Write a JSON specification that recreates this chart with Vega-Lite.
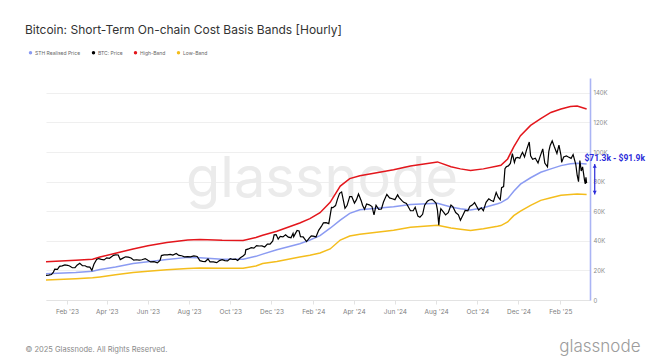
{
  "$schema": "https://vega.github.io/schema/vega-lite/v6.json",
  "width": 544,
  "height": 222,
  "autosize": {"type": "none"},
  "padding": {"left": 46, "top": 78, "right": 61, "bottom": 58},
  "background": "#ffffff",
  "config": {"view": {"stroke": null}, "font": "Inter"},
  "title": {"text": "Bitcoin: Short-Term On-chain Cost Basis Bands [Hourly]", "anchor": "start", "frame": "group", "dx": -21, "offset": 13, "fontSize": 12, "font": "Inter", "fontWeight": 400, "color": "#333333"},
  "datasets": {
    "bands": [
      {"date": "2023-01-01", "series": "High-Band", "value": 25800}, {"date": "2023-01-01", "series": "STH Realised Price", "value": 17800}, {"date": "2023-01-01", "series": "Low-Band", "value": 13500},
      {"date": "2023-02-14", "series": "High-Band", "value": 26900}, {"date": "2023-02-14", "series": "STH Realised Price", "value": 18600}, {"date": "2023-02-14", "series": "Low-Band", "value": 14300},
      {"date": "2023-03-11", "series": "High-Band", "value": 27600}, {"date": "2023-03-11", "series": "STH Realised Price", "value": 19400}, {"date": "2023-03-11", "series": "Low-Band", "value": 15000},
      {"date": "2023-03-22", "series": "High-Band", "value": 29000}, {"date": "2023-03-22", "series": "STH Realised Price", "value": 20600}, {"date": "2023-03-22", "series": "Low-Band", "value": 15600},
      {"date": "2023-04-14", "series": "High-Band", "value": 31600}, {"date": "2023-04-14", "series": "STH Realised Price", "value": 22300}, {"date": "2023-04-14", "series": "Low-Band", "value": 17000},
      {"date": "2023-05-10", "series": "High-Band", "value": 34500}, {"date": "2023-05-10", "series": "STH Realised Price", "value": 24600}, {"date": "2023-05-10", "series": "Low-Band", "value": 18600},
      {"date": "2023-06-01", "series": "High-Band", "value": 36600}, {"date": "2023-06-01", "series": "STH Realised Price", "value": 25800}, {"date": "2023-06-01", "series": "Low-Band", "value": 19400},
      {"date": "2023-06-29", "series": "High-Band", "value": 38800}, {"date": "2023-06-29", "series": "STH Realised Price", "value": 27300}, {"date": "2023-06-29", "series": "Low-Band", "value": 20400},
      {"date": "2023-07-30", "series": "High-Band", "value": 40600}, {"date": "2023-07-30", "series": "STH Realised Price", "value": 28800}, {"date": "2023-07-30", "series": "Low-Band", "value": 21300},
      {"date": "2023-08-17", "series": "High-Band", "value": 40800}, {"date": "2023-08-17", "series": "STH Realised Price", "value": 28600}, {"date": "2023-08-17", "series": "Low-Band", "value": 21700},
      {"date": "2023-09-19", "series": "High-Band", "value": 40300}, {"date": "2023-09-19", "series": "STH Realised Price", "value": 27600}, {"date": "2023-09-19", "series": "Low-Band", "value": 21400},
      {"date": "2023-10-20", "series": "High-Band", "value": 40200}, {"date": "2023-10-20", "series": "STH Realised Price", "value": 27600}, {"date": "2023-10-20", "series": "Low-Band", "value": 21500},
      {"date": "2023-11-08", "series": "High-Band", "value": 42200}, {"date": "2023-11-08", "series": "STH Realised Price", "value": 29500}, {"date": "2023-11-08", "series": "Low-Band", "value": 23000},
      {"date": "2023-11-18", "series": "High-Band", "value": 43700}, {"date": "2023-11-18", "series": "STH Realised Price", "value": 31000}, {"date": "2023-11-18", "series": "Low-Band", "value": 24700},
      {"date": "2023-12-09", "series": "High-Band", "value": 46500}, {"date": "2023-12-09", "series": "STH Realised Price", "value": 34000}, {"date": "2023-12-09", "series": "Low-Band", "value": 26000},
      {"date": "2024-01-12", "series": "High-Band", "value": 52000}, {"date": "2024-01-12", "series": "STH Realised Price", "value": 38000}, {"date": "2024-01-12", "series": "Low-Band", "value": 29000},
      {"date": "2024-01-27", "series": "High-Band", "value": 55000}, {"date": "2024-01-27", "series": "STH Realised Price", "value": 40500}, {"date": "2024-01-27", "series": "Low-Band", "value": 30300},
      {"date": "2024-02-11", "series": "High-Band", "value": 59000}, {"date": "2024-02-11", "series": "STH Realised Price", "value": 43500}, {"date": "2024-02-11", "series": "Low-Band", "value": 31800},
      {"date": "2024-02-26", "series": "High-Band", "value": 66000}, {"date": "2024-02-26", "series": "STH Realised Price", "value": 48500}, {"date": "2024-02-26", "series": "Low-Band", "value": 34500},
      {"date": "2024-03-12", "series": "High-Band", "value": 77000}, {"date": "2024-03-12", "series": "STH Realised Price", "value": 54000}, {"date": "2024-03-12", "series": "Low-Band", "value": 40500},
      {"date": "2024-03-26", "series": "High-Band", "value": 82000}, {"date": "2024-03-26", "series": "STH Realised Price", "value": 58500}, {"date": "2024-03-26", "series": "Low-Band", "value": 43200},
      {"date": "2024-04-10", "series": "High-Band", "value": 84000}, {"date": "2024-04-10", "series": "STH Realised Price", "value": 61000}, {"date": "2024-04-10", "series": "Low-Band", "value": 44500},
      {"date": "2024-05-30", "series": "High-Band", "value": 88000}, {"date": "2024-05-30", "series": "STH Realised Price", "value": 63000}, {"date": "2024-05-30", "series": "Low-Band", "value": 47200},
      {"date": "2024-06-24", "series": "High-Band", "value": 90500}, {"date": "2024-06-24", "series": "STH Realised Price", "value": 64600}, {"date": "2024-06-24", "series": "Low-Band", "value": 49200},
      {"date": "2024-08-03", "series": "High-Band", "value": 93300}, {"date": "2024-08-03", "series": "STH Realised Price", "value": 65300}, {"date": "2024-08-03", "series": "Low-Band", "value": 50500},
      {"date": "2024-08-23", "series": "High-Band", "value": 90000}, {"date": "2024-08-23", "series": "STH Realised Price", "value": 62800}, {"date": "2024-08-23", "series": "Low-Band", "value": 48600},
      {"date": "2024-09-06", "series": "High-Band", "value": 88600}, {"date": "2024-09-06", "series": "STH Realised Price", "value": 61700}, {"date": "2024-09-06", "series": "Low-Band", "value": 47800},
      {"date": "2024-09-21", "series": "High-Band", "value": 87500}, {"date": "2024-09-21", "series": "STH Realised Price", "value": 60800}, {"date": "2024-09-21", "series": "Low-Band", "value": 47000},
      {"date": "2024-10-10", "series": "High-Band", "value": 88600}, {"date": "2024-10-10", "series": "STH Realised Price", "value": 62400}, {"date": "2024-10-10", "series": "Low-Band", "value": 48200},
      {"date": "2024-10-31", "series": "High-Band", "value": 90500}, {"date": "2024-10-31", "series": "STH Realised Price", "value": 65000}, {"date": "2024-10-31", "series": "Low-Band", "value": 49800},
      {"date": "2024-11-05", "series": "High-Band", "value": 91000}, {"date": "2024-11-05", "series": "STH Realised Price", "value": 65800}, {"date": "2024-11-05", "series": "Low-Band", "value": 50300},
      {"date": "2024-11-15", "series": "High-Band", "value": 95300}, {"date": "2024-11-15", "series": "STH Realised Price", "value": 68400}, {"date": "2024-11-15", "series": "Low-Band", "value": 52700},
      {"date": "2024-11-24", "series": "High-Band", "value": 103500}, {"date": "2024-11-24", "series": "STH Realised Price", "value": 73500}, {"date": "2024-11-24", "series": "Low-Band", "value": 57000},
      {"date": "2024-12-04", "series": "High-Band", "value": 111000}, {"date": "2024-12-04", "series": "STH Realised Price", "value": 78300}, {"date": "2024-12-04", "series": "Low-Band", "value": 60000},
      {"date": "2024-12-19", "series": "High-Band", "value": 118000}, {"date": "2024-12-19", "series": "STH Realised Price", "value": 82600}, {"date": "2024-12-19", "series": "Low-Band", "value": 63900},
      {"date": "2025-01-03", "series": "High-Band", "value": 122500}, {"date": "2025-01-03", "series": "STH Realised Price", "value": 86300}, {"date": "2025-01-03", "series": "Low-Band", "value": 67300},
      {"date": "2025-01-18", "series": "High-Band", "value": 126700}, {"date": "2025-01-18", "series": "STH Realised Price", "value": 88600}, {"date": "2025-01-18", "series": "Low-Band", "value": 69100},
      {"date": "2025-02-02", "series": "High-Band", "value": 129000}, {"date": "2025-02-02", "series": "STH Realised Price", "value": 90800}, {"date": "2025-02-02", "series": "Low-Band", "value": 70700},
      {"date": "2025-02-16", "series": "High-Band", "value": 130800}, {"date": "2025-02-16", "series": "STH Realised Price", "value": 92100}, {"date": "2025-02-16", "series": "Low-Band", "value": 71300},
      {"date": "2025-02-26", "series": "High-Band", "value": 131000}, {"date": "2025-02-26", "series": "STH Realised Price", "value": 92400}, {"date": "2025-02-26", "series": "Low-Band", "value": 71600},
      {"date": "2025-03-12", "series": "High-Band", "value": 129000}, {"date": "2025-03-12", "series": "STH Realised Price", "value": 91900}, {"date": "2025-03-12", "series": "Low-Band", "value": 71300}
    ],
    "price": [
      {"date": "2023-01-01", "series": "BTC: Price", "value": 16600}, {"date": "2023-01-05", "series": "BTC: Price", "value": 16850}, {"date": "2023-01-09", "series": "BTC: Price", "value": 17200}, {"date": "2023-01-12", "series": "BTC: Price", "value": 18850}, {"date": "2023-01-14", "series": "BTC: Price", "value": 20900}, {"date": "2023-01-18", "series": "BTC: Price", "value": 20700}, {"date": "2023-01-21", "series": "BTC: Price", "value": 22700}, {"date": "2023-01-25", "series": "BTC: Price", "value": 23050}, {"date": "2023-01-29", "series": "BTC: Price", "value": 23750},
      {"date": "2023-02-02", "series": "BTC: Price", "value": 23450}, {"date": "2023-02-05", "series": "BTC: Price", "value": 22950}, {"date": "2023-02-09", "series": "BTC: Price", "value": 21800}, {"date": "2023-02-13", "series": "BTC: Price", "value": 21800}, {"date": "2023-02-16", "series": "BTC: Price", "value": 23550}, {"date": "2023-02-20", "series": "BTC: Price", "value": 24850}, {"date": "2023-02-24", "series": "BTC: Price", "value": 23150}, {"date": "2023-02-28", "series": "BTC: Price", "value": 23150},
      {"date": "2023-03-03", "series": "BTC: Price", "value": 22350}, {"date": "2023-03-07", "series": "BTC: Price", "value": 22200}, {"date": "2023-03-10", "series": "BTC: Price", "value": 20000}, {"date": "2023-03-13", "series": "BTC: Price", "value": 24150}, {"date": "2023-03-17", "series": "BTC: Price", "value": 27400}, {"date": "2023-03-20", "series": "BTC: Price", "value": 28000}, {"date": "2023-03-24", "series": "BTC: Price", "value": 27500}, {"date": "2023-03-28", "series": "BTC: Price", "value": 27100},
      {"date": "2023-04-01", "series": "BTC: Price", "value": 28500}, {"date": "2023-04-05", "series": "BTC: Price", "value": 28200}, {"date": "2023-04-11", "series": "BTC: Price", "value": 30200}, {"date": "2023-04-14", "series": "BTC: Price", "value": 30500}, {"date": "2023-04-18", "series": "BTC: Price", "value": 30400}, {"date": "2023-04-21", "series": "BTC: Price", "value": 27300}, {"date": "2023-04-25", "series": "BTC: Price", "value": 28300}, {"date": "2023-04-29", "series": "BTC: Price", "value": 29200},
      {"date": "2023-05-03", "series": "BTC: Price", "value": 29000}, {"date": "2023-05-07", "series": "BTC: Price", "value": 28400}, {"date": "2023-05-11", "series": "BTC: Price", "value": 26900}, {"date": "2023-05-15", "series": "BTC: Price", "value": 27200}, {"date": "2023-05-19", "series": "BTC: Price", "value": 26900}, {"date": "2023-05-23", "series": "BTC: Price", "value": 27200}, {"date": "2023-05-28", "series": "BTC: Price", "value": 28000},
      {"date": "2023-06-01", "series": "BTC: Price", "value": 26800}, {"date": "2023-06-05", "series": "BTC: Price", "value": 25700}, {"date": "2023-06-10", "series": "BTC: Price", "value": 25900}, {"date": "2023-06-15", "series": "BTC: Price", "value": 25100}, {"date": "2023-06-19", "series": "BTC: Price", "value": 26800}, {"date": "2023-06-21", "series": "BTC: Price", "value": 30000}, {"date": "2023-06-25", "series": "BTC: Price", "value": 30500}, {"date": "2023-06-30", "series": "BTC: Price", "value": 30500},
      {"date": "2023-07-04", "series": "BTC: Price", "value": 30800}, {"date": "2023-07-08", "series": "BTC: Price", "value": 30300}, {"date": "2023-07-13", "series": "BTC: Price", "value": 31400}, {"date": "2023-07-17", "series": "BTC: Price", "value": 30100}, {"date": "2023-07-21", "series": "BTC: Price", "value": 29900}, {"date": "2023-07-25", "series": "BTC: Price", "value": 29200}, {"date": "2023-07-30", "series": "BTC: Price", "value": 29300},
      {"date": "2023-08-03", "series": "BTC: Price", "value": 29200}, {"date": "2023-08-08", "series": "BTC: Price", "value": 29800}, {"date": "2023-08-13", "series": "BTC: Price", "value": 29400}, {"date": "2023-08-17", "series": "BTC: Price", "value": 26600}, {"date": "2023-08-21", "series": "BTC: Price", "value": 26100}, {"date": "2023-08-25", "series": "BTC: Price", "value": 26000}, {"date": "2023-08-29", "series": "BTC: Price", "value": 27700},
      {"date": "2023-09-01", "series": "BTC: Price", "value": 25800}, {"date": "2023-09-06", "series": "BTC: Price", "value": 25800}, {"date": "2023-09-11", "series": "BTC: Price", "value": 25200}, {"date": "2023-09-15", "series": "BTC: Price", "value": 26600}, {"date": "2023-09-19", "series": "BTC: Price", "value": 27200}, {"date": "2023-09-23", "series": "BTC: Price", "value": 26600}, {"date": "2023-09-27", "series": "BTC: Price", "value": 26400},
      {"date": "2023-10-01", "series": "BTC: Price", "value": 28000}, {"date": "2023-10-05", "series": "BTC: Price", "value": 27400}, {"date": "2023-10-09", "series": "BTC: Price", "value": 27600}, {"date": "2023-10-12", "series": "BTC: Price", "value": 26700}, {"date": "2023-10-16", "series": "BTC: Price", "value": 28500}, {"date": "2023-10-20", "series": "BTC: Price", "value": 29700}, {"date": "2023-10-23", "series": "BTC: Price", "value": 31000}, {"date": "2023-10-24", "series": "BTC: Price", "value": 33900}, {"date": "2023-10-28", "series": "BTC: Price", "value": 34500},
      {"date": "2023-11-01", "series": "BTC: Price", "value": 35400}, {"date": "2023-11-05", "series": "BTC: Price", "value": 35000}, {"date": "2023-11-09", "series": "BTC: Price", "value": 36700}, {"date": "2023-11-13", "series": "BTC: Price", "value": 36500}, {"date": "2023-11-17", "series": "BTC: Price", "value": 36600}, {"date": "2023-11-21", "series": "BTC: Price", "value": 35800}, {"date": "2023-11-25", "series": "BTC: Price", "value": 37700}, {"date": "2023-11-29", "series": "BTC: Price", "value": 37800},
      {"date": "2023-12-03", "series": "BTC: Price", "value": 39900}, {"date": "2023-12-05", "series": "BTC: Price", "value": 44000}, {"date": "2023-12-08", "series": "BTC: Price", "value": 44200}, {"date": "2023-12-11", "series": "BTC: Price", "value": 41200}, {"date": "2023-12-14", "series": "BTC: Price", "value": 43000}, {"date": "2023-12-18", "series": "BTC: Price", "value": 42600}, {"date": "2023-12-22", "series": "BTC: Price", "value": 44000}, {"date": "2023-12-26", "series": "BTC: Price", "value": 42500}, {"date": "2023-12-30", "series": "BTC: Price", "value": 42100},
      {"date": "2024-01-02", "series": "BTC: Price", "value": 45000}, {"date": "2024-01-03", "series": "BTC: Price", "value": 42800}, {"date": "2024-01-08", "series": "BTC: Price", "value": 47000}, {"date": "2024-01-11", "series": "BTC: Price", "value": 46600}, {"date": "2024-01-13", "series": "BTC: Price", "value": 42800}, {"date": "2024-01-17", "series": "BTC: Price", "value": 42700}, {"date": "2024-01-22", "series": "BTC: Price", "value": 39500}, {"date": "2024-01-26", "series": "BTC: Price", "value": 41800}, {"date": "2024-01-29", "series": "BTC: Price", "value": 43300},
      {"date": "2024-02-01", "series": "BTC: Price", "value": 43100}, {"date": "2024-02-05", "series": "BTC: Price", "value": 42600}, {"date": "2024-02-09", "series": "BTC: Price", "value": 47100}, {"date": "2024-02-13", "series": "BTC: Price", "value": 49700}, {"date": "2024-02-16", "series": "BTC: Price", "value": 52100}, {"date": "2024-02-20", "series": "BTC: Price", "value": 52300}, {"date": "2024-02-24", "series": "BTC: Price", "value": 51600}, {"date": "2024-02-28", "series": "BTC: Price", "value": 62500},
      {"date": "2024-03-01", "series": "BTC: Price", "value": 62400}, {"date": "2024-03-05", "series": "BTC: Price", "value": 63800}, {"date": "2024-03-08", "series": "BTC: Price", "value": 68300}, {"date": "2024-03-11", "series": "BTC: Price", "value": 72100}, {"date": "2024-03-14", "series": "BTC: Price", "value": 73000}, {"date": "2024-03-19", "series": "BTC: Price", "value": 62000}, {"date": "2024-03-22", "series": "BTC: Price", "value": 63800}, {"date": "2024-03-26", "series": "BTC: Price", "value": 69900}, {"date": "2024-03-29", "series": "BTC: Price", "value": 69900},
      {"date": "2024-04-02", "series": "BTC: Price", "value": 65500}, {"date": "2024-04-05", "series": "BTC: Price", "value": 67800}, {"date": "2024-04-08", "series": "BTC: Price", "value": 71600}, {"date": "2024-04-12", "series": "BTC: Price", "value": 67100}, {"date": "2024-04-14", "series": "BTC: Price", "value": 64000}, {"date": "2024-04-17", "series": "BTC: Price", "value": 61300}, {"date": "2024-04-20", "series": "BTC: Price", "value": 64900}, {"date": "2024-04-24", "series": "BTC: Price", "value": 64300}, {"date": "2024-04-28", "series": "BTC: Price", "value": 63100},
      {"date": "2024-05-01", "series": "BTC: Price", "value": 57500}, {"date": "2024-05-04", "series": "BTC: Price", "value": 64000}, {"date": "2024-05-08", "series": "BTC: Price", "value": 61200}, {"date": "2024-05-12", "series": "BTC: Price", "value": 61500}, {"date": "2024-05-15", "series": "BTC: Price", "value": 66200}, {"date": "2024-05-20", "series": "BTC: Price", "value": 71400}, {"date": "2024-05-24", "series": "BTC: Price", "value": 69000}, {"date": "2024-05-28", "series": "BTC: Price", "value": 68400},
      {"date": "2024-06-01", "series": "BTC: Price", "value": 67800}, {"date": "2024-06-05", "series": "BTC: Price", "value": 71100}, {"date": "2024-06-07", "series": "BTC: Price", "value": 69400}, {"date": "2024-06-11", "series": "BTC: Price", "value": 67300}, {"date": "2024-06-14", "series": "BTC: Price", "value": 66000}, {"date": "2024-06-18", "series": "BTC: Price", "value": 65200}, {"date": "2024-06-24", "series": "BTC: Price", "value": 60300}, {"date": "2024-06-28", "series": "BTC: Price", "value": 60300},
      {"date": "2024-07-01", "series": "BTC: Price", "value": 62700}, {"date": "2024-07-05", "series": "BTC: Price", "value": 56700}, {"date": "2024-07-08", "series": "BTC: Price", "value": 55900}, {"date": "2024-07-12", "series": "BTC: Price", "value": 57900}, {"date": "2024-07-15", "series": "BTC: Price", "value": 64100}, {"date": "2024-07-19", "series": "BTC: Price", "value": 66700}, {"date": "2024-07-22", "series": "BTC: Price", "value": 67600}, {"date": "2024-07-26", "series": "BTC: Price", "value": 68000}, {"date": "2024-07-29", "series": "BTC: Price", "value": 66800},
      {"date": "2024-08-01", "series": "BTC: Price", "value": 65300}, {"date": "2024-08-03", "series": "BTC: Price", "value": 60700}, {"date": "2024-08-05", "series": "BTC: Price", "value": 50500}, {"date": "2024-08-06", "series": "BTC: Price", "value": 56000}, {"date": "2024-08-08", "series": "BTC: Price", "value": 61700}, {"date": "2024-08-12", "series": "BTC: Price", "value": 59300}, {"date": "2024-08-15", "series": "BTC: Price", "value": 57500}, {"date": "2024-08-19", "series": "BTC: Price", "value": 59000}, {"date": "2024-08-23", "series": "BTC: Price", "value": 64100}, {"date": "2024-08-26", "series": "BTC: Price", "value": 62900}, {"date": "2024-08-30", "series": "BTC: Price", "value": 59100},
      {"date": "2024-09-03", "series": "BTC: Price", "value": 57500}, {"date": "2024-09-06", "series": "BTC: Price", "value": 53900}, {"date": "2024-09-10", "series": "BTC: Price", "value": 57600}, {"date": "2024-09-13", "series": "BTC: Price", "value": 60500}, {"date": "2024-09-17", "series": "BTC: Price", "value": 60300}, {"date": "2024-09-20", "series": "BTC: Price", "value": 63200}, {"date": "2024-09-24", "series": "BTC: Price", "value": 64300}, {"date": "2024-09-27", "series": "BTC: Price", "value": 65800}, {"date": "2024-09-30", "series": "BTC: Price", "value": 63300},
      {"date": "2024-10-03", "series": "BTC: Price", "value": 60800}, {"date": "2024-10-07", "series": "BTC: Price", "value": 62300}, {"date": "2024-10-10", "series": "BTC: Price", "value": 60300}, {"date": "2024-10-14", "series": "BTC: Price", "value": 66000}, {"date": "2024-10-18", "series": "BTC: Price", "value": 68400}, {"date": "2024-10-21", "series": "BTC: Price", "value": 67400}, {"date": "2024-10-25", "series": "BTC: Price", "value": 66600}, {"date": "2024-10-29", "series": "BTC: Price", "value": 72700},
      {"date": "2024-11-01", "series": "BTC: Price", "value": 69500}, {"date": "2024-11-04", "series": "BTC: Price", "value": 67800}, {"date": "2024-11-06", "series": "BTC: Price", "value": 75900}, {"date": "2024-11-09", "series": "BTC: Price", "value": 76600}, {"date": "2024-11-11", "series": "BTC: Price", "value": 88700}, {"date": "2024-11-13", "series": "BTC: Price", "value": 90000}, {"date": "2024-11-16", "series": "BTC: Price", "value": 90600}, {"date": "2024-11-19", "series": "BTC: Price", "value": 92300}, {"date": "2024-11-22", "series": "BTC: Price", "value": 98900}, {"date": "2024-11-25", "series": "BTC: Price", "value": 93000}, {"date": "2024-11-27", "series": "BTC: Price", "value": 95900}, {"date": "2024-11-30", "series": "BTC: Price", "value": 96400},
      {"date": "2024-12-03", "series": "BTC: Price", "value": 95800}, {"date": "2024-12-05", "series": "BTC: Price", "value": 98000}, {"date": "2024-12-07", "series": "BTC: Price", "value": 99800}, {"date": "2024-12-10", "series": "BTC: Price", "value": 96600}, {"date": "2024-12-13", "series": "BTC: Price", "value": 101400}, {"date": "2024-12-17", "series": "BTC: Price", "value": 106800}, {"date": "2024-12-19", "series": "BTC: Price", "value": 97500}, {"date": "2024-12-22", "series": "BTC: Price", "value": 95100}, {"date": "2024-12-26", "series": "BTC: Price", "value": 95800}, {"date": "2024-12-30", "series": "BTC: Price", "value": 92600},
      {"date": "2025-01-02", "series": "BTC: Price", "value": 96900}, {"date": "2025-01-06", "series": "BTC: Price", "value": 102100}, {"date": "2025-01-09", "series": "BTC: Price", "value": 92500}, {"date": "2025-01-13", "series": "BTC: Price", "value": 90000}, {"date": "2025-01-15", "series": "BTC: Price", "value": 100500}, {"date": "2025-01-17", "series": "BTC: Price", "value": 104400}, {"date": "2025-01-20", "series": "BTC: Price", "value": 107500}, {"date": "2025-01-23", "series": "BTC: Price", "value": 103700}, {"date": "2025-01-27", "series": "BTC: Price", "value": 99000}, {"date": "2025-01-30", "series": "BTC: Price", "value": 104700},
      {"date": "2025-02-02", "series": "BTC: Price", "value": 97700}, {"date": "2025-02-03", "series": "BTC: Price", "value": 93000}, {"date": "2025-02-06", "series": "BTC: Price", "value": 96600}, {"date": "2025-02-10", "series": "BTC: Price", "value": 97400}, {"date": "2025-02-13", "series": "BTC: Price", "value": 96600}, {"date": "2025-02-17", "series": "BTC: Price", "value": 95700}, {"date": "2025-02-20", "series": "BTC: Price", "value": 98300}, {"date": "2025-02-24", "series": "BTC: Price", "value": 91500}, {"date": "2025-02-26", "series": "BTC: Price", "value": 84300}, {"date": "2025-02-28", "series": "BTC: Price", "value": 80000},
      {"date": "2025-03-02", "series": "BTC: Price", "value": 94200}, {"date": "2025-03-04", "series": "BTC: Price", "value": 87200}, {"date": "2025-03-06", "series": "BTC: Price", "value": 89900}, {"date": "2025-03-09", "series": "BTC: Price", "value": 80700}, {"date": "2025-03-10", "series": "BTC: Price", "value": 78500}, {"date": "2025-03-11", "series": "BTC: Price", "value": 82900}, {"date": "2025-03-12", "series": "BTC: Price", "value": 79000}
    ],
    "watermark": [{"date": "2024-02-14", "value": 69700, "label": "glassnode"}],
    "range": [
      {"date": "2025-03-24", "value": 91900, "end": "high", "label": "$71.3k - $91.9k"},
      {"date": "2025-03-24", "value": 71300, "end": "low", "label": ""}
    ]
  },
  "encoding": {
    "x": {
      "field": "date", "type": "temporal", "title": "© 2025 Glassnode. All Rights Reserved.",
      "scale": {"type": "utc", "domain": [1672531200000, 1742169600000]},
      "axis": {
        "values": [1675209600000, 1680307200000, 1685577600000, 1690848000000, 1696118400000, 1701388800000, 1706745600000, 1711929600000, 1717200000000, 1722470400000, 1727740800000, 1733011200000, 1738368000000],
        "labelExpr": "utcFormat(datum.value, \"%b '%y\")",
        "grid": false, "domainColor": "#e3e3e3", "domainWidth": 1, "tickColor": "#e3e3e3", "tickSize": 4,
        "labelFontSize": 6.5, "labelColor": "#808080", "labelPadding": 4,
        "titleX": -21, "titleY": 51, "titleAlign": "left", "titleBaseline": "alphabetic",
        "titleFontSize": 7.5, "titleFontWeight": "normal", "titleColor": "#8a8a8a"
      }
    },
    "y": {
      "field": "value", "type": "quantitative", "title": "glassnode",
      "scale": {"domain": [0, 150000], "nice": false, "zero": true},
      "axis": {
        "orient": "right", "values": [0, 20000, 40000, 60000, 80000, 100000, 120000, 140000],
        "labelExpr": "datum.value == 0 ? '0' : (datum.value / 1000) + 'K'",
        "grid": true, "gridColor": "#efefef", "gridWidth": 1,
        "domain": true, "domainColor": "#aab4f4", "domainWidth": 1.6, "ticks": false,
        "labelFontSize": 6, "labelColor": "#8a8a8a", "labelPadding": 3,
        "titleAngle": 0, "titleX": 50, "titleY": 273, "titleAlign": "right", "titleBaseline": "alphabetic",
        "titleFontSize": 17, "titleFontWeight": 300, "titleColor": "#9c9c9c"
      }
    }
  },
  "layer": [
    {
      "data": {"name": "watermark"},
      "mark": {"type": "text", "fontSize": 56, "font": "Inter", "fontWeight": 400, "align": "center", "baseline": "alphabetic", "color": "#ebebeb"},
      "encoding": {"text": {"field": "label"}}
    },
    {
      "data": {"name": "bands"},
      "mark": {"type": "line", "strokeWidth": 1.5, "interpolate": "linear"},
      "encoding": {
        "color": {
          "field": "series", "type": "nominal",
          "scale": {"domain": ["STH Realised Price", "BTC: Price", "High-Band", "Low-Band"], "range": ["#8b9bf2", "#000000", "#e3161c", "#f4bd1c"]},
          "legend": {
            "orient": "none", "legendX": -18, "legendY": -28, "direction": "horizontal", "title": null,
            "symbolType": "circle", "symbolSize": 12, "symbolStrokeWidth": 0, "labelFontSize": 5, "labelColor": "#666666",
            "labelOffset": 2, "columnPadding": 10,
            "encode": {"symbols": {"update": {"fill": {"scale": "color", "field": "value"}, "stroke": {"value": "transparent"}}}}
          }
        }
      }
    },
    {
      "data": {"name": "price"},
      "mark": {"type": "line", "strokeWidth": 1.2, "interpolate": "linear"},
      "encoding": {"color": {"field": "series", "type": "nominal"}}
    },
    {
      "data": {"name": "range"},
      "mark": {"type": "line", "strokeWidth": 1.2, "color": "#2b2bd9"},
      "encoding": {}
    },
    {
      "data": {"name": "range"},
      "transform": [{"filter": "datum.end == 'high'"}],
      "mark": {"type": "point", "shape": "triangle-up", "filled": true, "size": 16, "opacity": 1, "color": "#2b2bd9", "yOffset": 2},
      "encoding": {}
    },
    {
      "data": {"name": "range"},
      "transform": [{"filter": "datum.end == 'low'"}],
      "mark": {"type": "point", "shape": "triangle-down", "filled": true, "size": 16, "opacity": 1, "color": "#2b2bd9", "yOffset": -2},
      "encoding": {}
    },
    {
      "data": {"name": "range"},
      "transform": [{"filter": "datum.end == 'high'"}],
      "mark": {"type": "text", "fontSize": 8.5, "font": "Roboto", "fontWeight": "bold", "align": "center", "baseline": "middle", "color": "#2b2bd9", "dx": 20, "dy": -6},
      "encoding": {"text": {"field": "label"}}
    }
  ]
}
